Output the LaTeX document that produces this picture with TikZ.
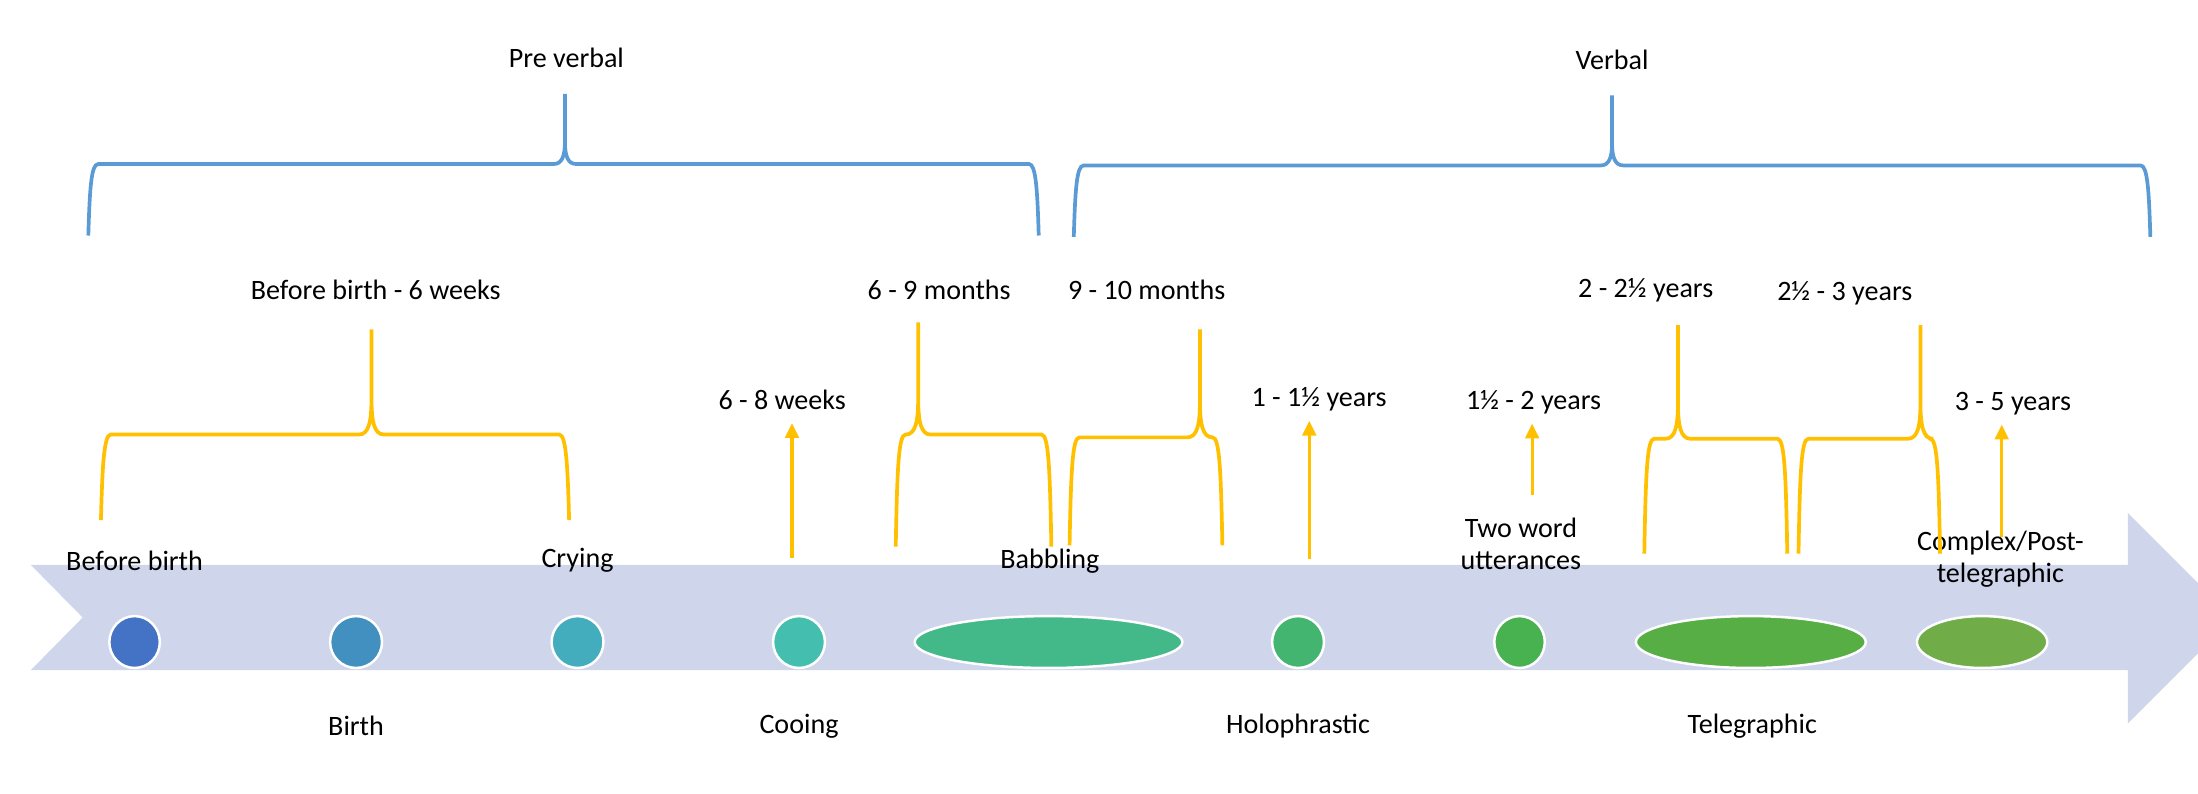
\documentclass[tikz,border=0pt]{standalone}
\usepackage{fontspec}
\setmainfont{Carlito}
\usepackage{xcolor}
\usetikzlibrary{arrows.meta, positioning, shapes.geometric}

\definecolor{bandlav}{HTML}{CFD5EA}
\definecolor{phaseblue}{HTML}{5B9BD5}
\definecolor{stageamber}{HTML}{FFC000}
\definecolor{stA}{HTML}{4472C4}
\definecolor{stB}{HTML}{4290BF}
\definecolor{stC}{HTML}{43ADBE}
\definecolor{stD}{HTML}{44BEAE}
\definecolor{stE}{HTML}{43B98A}
\definecolor{stF}{HTML}{44B570}
\definecolor{stG}{HTML}{48B150}
\definecolor{stH}{HTML}{56AE45}
\definecolor{stI}{HTML}{70AC47}

\begin{document}
\begin{tikzpicture}[x=0.02cm, y=-0.02cm, font=\fontsize{11.4}{12.8}\selectfont,
  lbl/.style={align=center, inner sep=2pt},
  stage/.style={ellipse, draw=white, line width=1pt, inner sep=0pt, minimum height=0.74cm},
  phasebrace/.style={draw=phaseblue, line width=1.5pt},
  stagebrace/.style={draw=stageamber, line width=1.5pt},
  agearrow/.style={draw=stageamber, line width=1.3pt, -{Triangle[width=5.5pt, length=6pt]}}]
  \def\fl{7} % flare of brace ends

  \useasboundingbox (0,0) rectangle (1568,566);

  % Time band (head cut by the page edge)
  \fill[bandlav] (22,403) -- (1518,403) -- (1518,366) -- (1568,416) -- (1568,466)
    -- (1518,516) -- (1518,478) -- (22,478) -- (59,440.5) -- cycle;

  % Stages on the band
  \foreach \n/\x/\w/\c in {bb/96/36/stA, bi/254/37/stB, cr/412/37/stC, co/570/37/stD,
      ba/748/191/stE, ho/926/37/stF, tw/1084/36/stG, te/1249/164/stH, cp/1414/93/stI} {
    \node[stage, minimum width=\w*0.02cm, fill=\c] (\n) at (\x,458) {};
  }

  % Stage names
  \foreach \n/\x/\y/\t in {lbb/96/400/{Before birth}, lcr/412/400/{Crying}, lba/749/400/{Babbling},
      ltw/1085/388/{Two word\\utterances}, lcp/1427/399/{Complex/Post-\\telegraphic},
      lbi/254/518/{Birth}, lco/570/518/{Cooing}, lho/926/518/{Holophrastic}, lte/1250/518/{Telegraphic}} {
    \node[lbl] (\n) at (\x,\y) {\t};
  }

  % Phase and age labels
  \node[lbl] (pre) at (404,41) {Pre verbal};
  \node[lbl] (verb) at (1150,43) {Verbal};
  \node[lbl] (a06w) at (268,207) {Before birth - 6 weeks};
  \node[lbl] (a69m) at (670,207) {6 - 9 months};
  \node[lbl] (a910m) at (818,207) {9 - 10 months};
  \node[lbl] (a225y) at (1174,207) {2 - 2½ years};
  \node[lbl] (a253y) at (1316,209) {2½ - 3 years};
  \node[lbl] (a68w) at (558,285) {6 - 8 weeks};
  \node[lbl] (a115y) at (941,285) {1 - 1½ years};
  \node[lbl] (a152y) at (1094,287) {1½ - 2 years};
  \node[lbl] (a35y) at (1436,288) {3 - 5 years};

  % Phase braces
  \def\hw{8} % half width of brace tip
  \foreach \xl/\xt/\xr/\yb/\yh/\yt in {63/403/741/168/117/67, 766/1150/1534/169/118/68} {
    \draw[phasebrace] (\xl,\yb) .. controls (\xl+1,\yh+18) and (\xl+2,\yh) .. (\xl+\fl,\yh) -- (\xt-\hw,\yh)
      .. controls (\xt-2,\yh) and (\xt,\yh-6) .. (\xt,\yh-16) -- (\xt,\yt)
      (\xt,\yh-16) .. controls (\xt,\yh-6) and (\xt+2,\yh) .. (\xt+\hw,\yh) -- (\xr-\fl,\yh)
      .. controls (\xr-2,\yh) and (\xr-1,\yh+18) .. (\xr,\yb);
  }

  % Stage braces
  \def\hw{9}
  \foreach \xl/\xt/\xr/\yb/\yh/\yt in {72/265/406/371/310/235, 639/655/750/390/310/230,
      763/856/872/389/312/235, 1173/1197/1275/395/313/232, 1283/1370/1384/395/313/232} {
    \draw[stagebrace] (\xl,\yb) .. controls (\xl+1,\yh+24) and (\xl+2,\yh) .. (\xl+\fl,\yh) -- (\xt-\hw,\yh)
      .. controls (\xt-2,\yh) and (\xt,\yh-9) .. (\xt,\yh-26) -- (\xt,\yt)
      (\xt,\yh-26) .. controls (\xt,\yh-9) and (\xt+2,\yh) .. (\xt+\hw,\yh) -- (\xr-\fl,\yh)
      .. controls (\xr-2,\yh) and (\xr-1,\yh+24) .. (\xr,\yb);
  }

  % Single ages
  \foreach \s/\x/\y/\t in {s68w/565/398/a68w, s115y/934/399/a115y, s152y/1093/353/a152y, s35y/1428/383/a35y} {
    \coordinate (\s) at (\x,\y);
    \draw[agearrow, shorten >=0.2cm] (\s) -- (\s |- \t.base);
  }
\end{tikzpicture}
\end{document}
